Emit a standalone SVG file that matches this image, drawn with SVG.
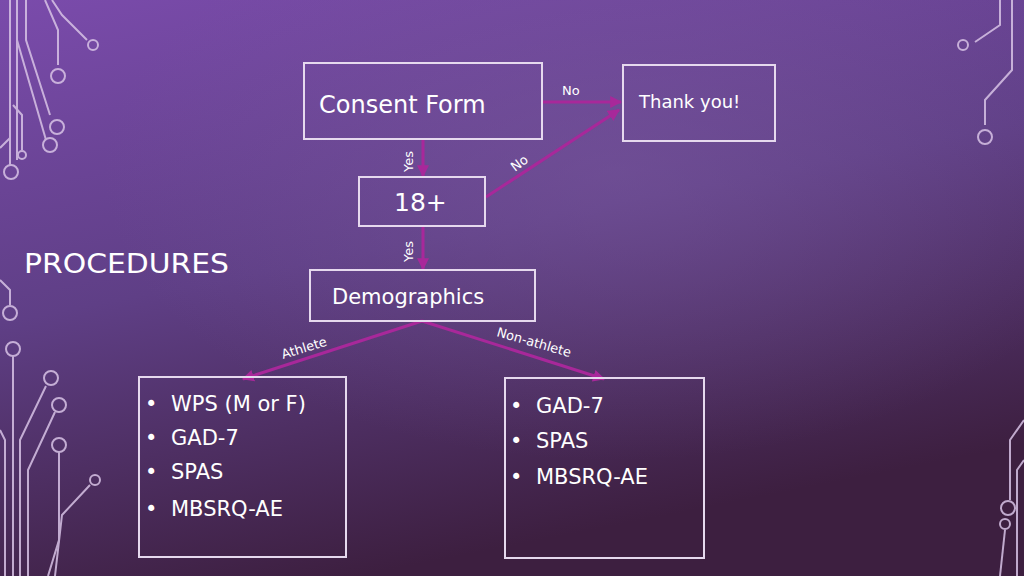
<svg xmlns="http://www.w3.org/2000/svg" width="1024" height="576" viewBox="0 0 1024 576">
<defs>
<linearGradient id="bg" x1="0" y1="0" x2="0.35" y2="1">
<stop offset="0" stop-color="#7a4bab"/>
<stop offset="0.5" stop-color="#5f3f86"/>
<stop offset="1" stop-color="#3d1f40"/>
</linearGradient>
<radialGradient id="glow" cx="0.6" cy="0.3" r="0.5">
<stop offset="0" stop-color="#7a5a9e" stop-opacity="0.5"/>
<stop offset="1" stop-color="#7a5a9e" stop-opacity="0"/>
</radialGradient>
<marker id="ah" viewBox="0 0 10 10" refX="9" refY="5" markerWidth="4" markerHeight="4" orient="auto">
<path d="M0,0 L10,5 L0,10 z" fill="#a8289a"/>
</marker>
</defs>
<style>
.box{fill:none;stroke:#e6d9ee;stroke-width:2}
.t{font-family:"DejaVu Sans",Verdana,sans-serif;fill:#fff}
.lbl{font-family:"DejaVu Sans",Verdana,sans-serif;fill:#fff;font-size:13px}
.c{stroke:#a8289a;stroke-width:3;fill:none;marker-end:url(#ah)}
.dec{stroke:#d8c3e6;stroke-width:2;fill:none;opacity:0.85}
</style>
<rect width="1024" height="576" fill="url(#bg)"/>
<rect width="1024" height="576" fill="url(#glow)"/>
<g id="decor" class="dec">
<path d="M10,0 V165"/><circle cx="11" cy="172" r="7"/>
<path d="M17,0 V160"/>
<path d="M26,0 V40 L50,115"/><circle cx="57" cy="127" r="7"/>
<path d="M45,0 L58,30 V65"/><circle cx="58" cy="76" r="7"/>
<path d="M52,0 L62,15 L87,40"/><circle cx="93" cy="45" r="5"/>
<path d="M17,40 L46,140"/><circle cx="50" cy="145" r="7"/>
<path d="M13,105 L22,115 V150"/><circle cx="22" cy="155" r="4"/>
<path d="M0,148 L10,138"/>
<path d="M0,280 L10,290 V305"/><circle cx="10" cy="313" r="7"/>
<path d="M13,356 V576"/><circle cx="13" cy="349" r="7"/>
<path d="M0,430 L5,440 V576"/>
<path d="M46,386 L20,440 V576"/><circle cx="51" cy="378" r="7"/>
<path d="M55,412 L28,470 V576"/><circle cx="59" cy="405" r="7"/>
<path d="M59,452 V540 L48,576"/><circle cx="59" cy="445" r="7"/>
<path d="M90,485 L62,515 L55,576"/><circle cx="95" cy="480" r="5"/>
<path d="M1000,0 V25 L975,42"/><circle cx="963" cy="45" r="5"/>
<path d="M1012,0 V70 L985,100 V125"/><circle cx="985" cy="137" r="7"/>
<path d="M1024,420 L1010,440 V500"/><circle cx="1008" cy="508" r="7"/>
<path d="M1024,460 L1017,470 V576"/>
<path d="M1005,530 L1000,576"/><circle cx="1005" cy="524" r="5"/>
</g>
<text class="t" x="24" y="273" font-size="27" textLength="205" lengthAdjust="spacingAndGlyphs">PROCEDURES</text>
<g id="connectors">
<line class="c" x1="542" y1="102" x2="621" y2="102"/>
<line class="c" x1="486" y1="197" x2="619" y2="110"/>
<line class="c" x1="423" y1="140" x2="423" y2="176"/>
<line class="c" x1="423" y1="227" x2="423" y2="269"/>
<line class="c" x1="422" y1="321" x2="243" y2="379"/>
<line class="c" x1="422" y1="321" x2="604" y2="379"/>
<text class="lbl" x="562" y="95">No</text>
<text class="lbl" transform="translate(413,172) rotate(-90)">Yes</text>
<text class="lbl" transform="translate(515,172) rotate(-37)">No</text>
<text class="lbl" transform="translate(413,262) rotate(-90)">Yes</text>
<text class="lbl" transform="translate(283,359) rotate(-17)">Athlete</text>
<text class="lbl" transform="translate(496,336) rotate(16)">Non-athlete</text>
</g>
<g id="consent"><rect class="box" x="304" y="63" width="238" height="76"/><text class="t" x="319" y="113" font-size="24">Consent Form</text></g>
<g id="thanks"><rect class="box" x="623" y="65" width="152" height="76"/><text class="t" x="639" y="108" font-size="18">Thank you!</text></g>
<g id="age"><rect class="box" x="359" y="177" width="126" height="49"/><text class="t" x="394" y="211" font-size="25">18+</text></g>
<g id="demo"><rect class="box" x="310" y="270" width="225" height="51"/><text class="t" x="332" y="304" font-size="21">Demographics</text></g>
<g id="athlete"><rect class="box" x="139" y="377" width="207" height="180"/>
<g class="t" font-size="21"><text x="145" y="411">•</text><text x="171" y="411">WPS (M or F)</text>
<text x="145" y="445">•</text><text x="171" y="445">GAD-7</text>
<text x="145" y="479">•</text><text x="171" y="479">SPAS</text>
<text x="145" y="516">•</text><text x="171" y="516">MBSRQ-AE</text></g></g>
<g id="nonathlete"><rect class="box" x="505" y="378" width="199" height="180"/>
<g class="t" font-size="21"><text x="510" y="413">•</text><text x="536" y="413">GAD-7</text>
<text x="510" y="448">•</text><text x="536" y="448">SPAS</text>
<text x="510" y="484">•</text><text x="536" y="484">MBSRQ-AE</text></g></g>
</svg>
